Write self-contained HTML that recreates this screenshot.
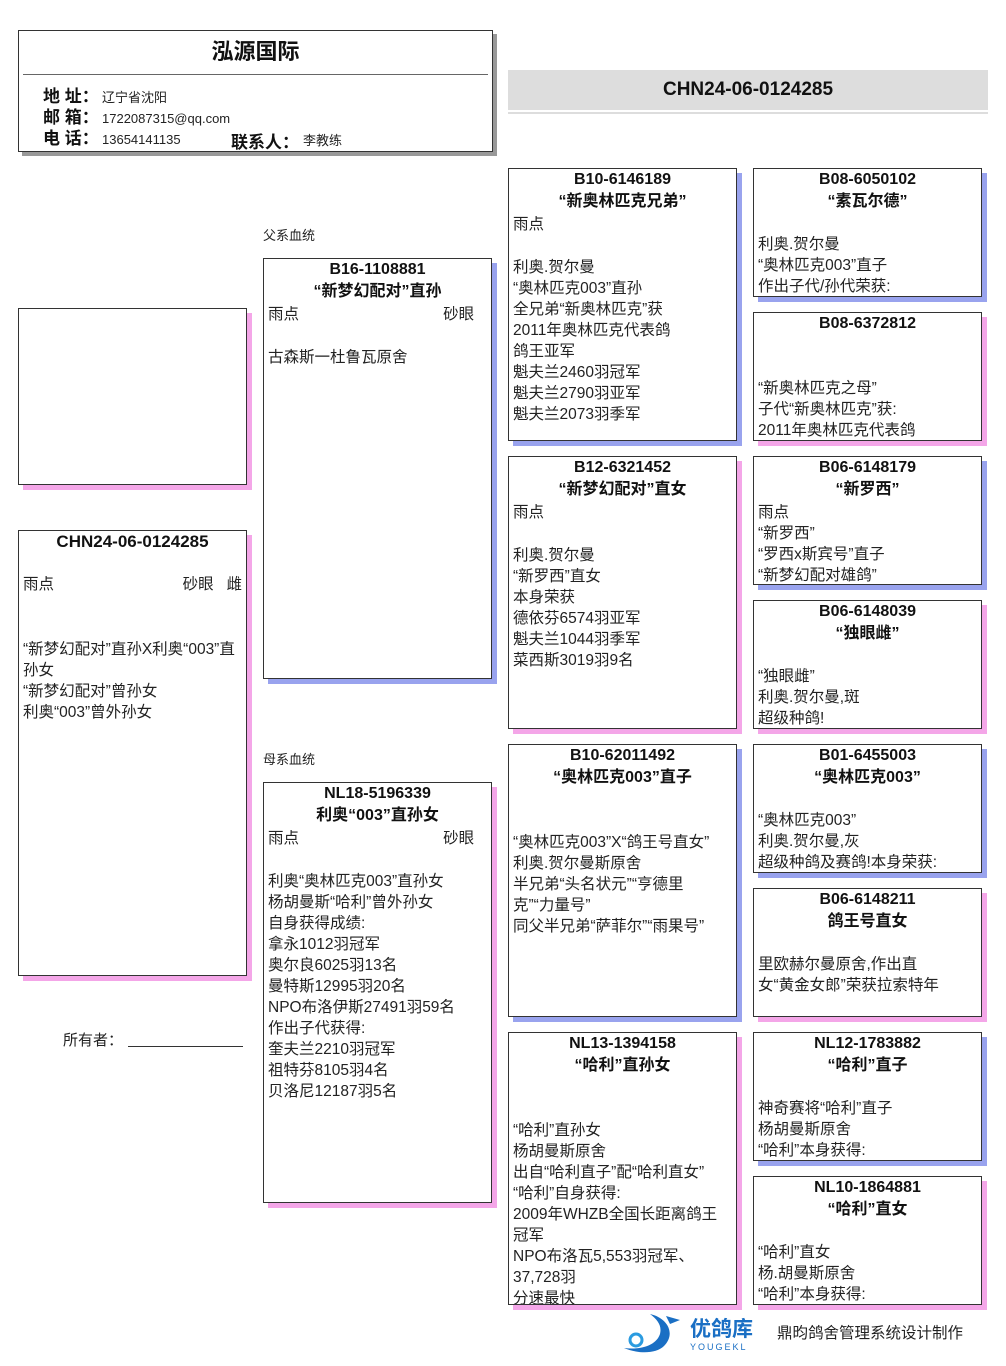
<!DOCTYPE html>
<html><head><meta charset="utf-8"><style>
*{margin:0;padding:0;box-sizing:border-box}
body{width:1006px;height:1366px;background:#fff;position:relative;font-family:"Liberation Sans","Noto Sans CJK SC",sans-serif;color:#222;overflow:hidden}
.a{position:absolute}
.b{position:absolute;border:1px solid #333;background:#fff;font-size:15.5px;line-height:21px;padding:0 4px;overflow:hidden;white-space:nowrap}
.m{box-shadow:5px 5px 0 #99a3ee}
.f{box-shadow:5px 5px 0 #f4a6e8}
.b .t{text-align:center;font-weight:bold;font-size:16px;color:#111}
.b .t+.t{margin-top:1px}
.b .r{display:flex;justify-content:space-between}
.e{height:22px}
.s{margin-top:2px}
</style></head><body>
<div class="a" style="left:18px;top:30px;width:475px;height:122px;border:1px solid #333;box-shadow:4px 4px 0 #999;background:#fff">
 <div class="a" style="left:0;width:100%;top:3px;text-align:center;font-size:22px;font-weight:bold;color:#111">泓源国际</div>
 <div class="a" style="left:4px;right:4px;top:43px;border-top:1px solid #666"></div>
 <div class="a" style="left:24px;top:55px;font-size:17px;line-height:21px;font-weight:bold;color:#111">地 址：<br>邮 箱：<br>电 话：</div>
 <div class="a" style="left:83px;top:56px;font-size:13px;line-height:21px">辽宁省沈阳<br>1722087315@qq.com<br>13654141135</div>
 <div class="a" style="left:212px;top:97px;font-size:17px;font-weight:bold;color:#111">联系人：</div>
 <div class="a" style="left:284px;top:99px;font-size:13px">李教练</div>
</div>
<div class="a" style="left:508px;top:70px;width:480px;height:40px;background:#ddd;text-align:center;font-size:19px;font-weight:bold;line-height:40px;color:#111">CHN24-06-0124285</div>
<div class="a" style="left:508px;top:112px;width:480px;height:2px;background:#ddd"></div>

<div class="b f" style="left:18px;top:308px;width:229px;height:177px"></div>
<div class="b f" style="left:18px;top:530px;width:229px;height:446px;white-space:normal">
<div class="t" style="font-size:17px">CHN24-06-0124285</div><div class="e"></div>
<div class="r"><span>雨点</span><span>砂眼&nbsp;&nbsp;&nbsp;雌</span></div><div class="e"></div><div class="e"></div>
“新梦幻配对”直孙X利奥“003”直孙女<br>“新梦幻配对”曾孙女<br>利奥“003”曾外孙女</div>

<div class="a" style="left:263px;top:225px;font-size:13px">父系血统</div>
<div class="a" style="left:263px;top:749px;font-size:13px">母系血统</div>
<div class="a" style="left:63px;top:1029px;font-size:15px">所有者：</div>
<div class="a" style="left:128px;top:1046px;width:115px;border-top:1px solid #333"></div>

<div class="b m" style="left:263px;top:258px;width:229px;height:421px">
<div class="t">B16-1108881</div><div class="t">“新梦幻配对”直孙</div>
<div class="r s"><span>雨点</span><span>砂眼&nbsp;&nbsp;&nbsp;</span></div><div class="e"></div>古森斯一杜鲁瓦原舍</div>
<div class="b f" style="left:263px;top:782px;width:229px;height:421px">
<div class="t">NL18-5196339</div><div class="t">利奥“003”直孙女</div>
<div class="r s"><span>雨点</span><span>砂眼&nbsp;&nbsp;&nbsp;</span></div><div class="e"></div>
利奥“奥林匹克003”直孙女<br>杨胡曼斯“哈利”曾外孙女<br>自身获得成绩:<br>拿永1012羽冠军<br>奥尔良6025羽13名<br>曼特斯12995羽20名<br>NPO布洛伊斯27491羽59名<br>作出子代获得:<br>奎夫兰2210羽冠军<br>祖特芬8105羽4名<br>贝洛尼12187羽5名</div>

<div class="b m" style="left:508px;top:168px;width:229px;height:273px">
<div class="t">B10-6146189</div><div class="t">“新奥林匹克兄弟”</div><div class="s">雨点</div><div class="e"></div>
利奥.贺尔曼<br>“奥林匹克003”直孙<br>全兄弟“新奥林匹克”获<br>2011年奥林匹克代表鸽<br>鸽王亚军<br>魁夫兰2460羽冠军<br>魁夫兰2790羽亚军<br>魁夫兰2073羽季军</div>
<div class="b f" style="left:508px;top:456px;width:229px;height:273px">
<div class="t">B12-6321452</div><div class="t">“新梦幻配对”直女</div><div class="s">雨点</div><div class="e"></div>
利奥.贺尔曼<br>“新罗西”直女<br>本身荣获<br>德依芬6574羽亚军<br>魁夫兰1044羽季军<br>菜西斯3019羽9名</div>
<div class="b m" style="left:508px;top:744px;width:229px;height:273px">
<div class="t">B10-62011492</div><div class="t">“奥林匹克003”直子</div><div class="e"></div><div class="e"></div>
“奥林匹克003”X“鸽王号直女”<br>利奥.贺尔曼斯原舍<br>半兄弟“头名状元”“亨德里<br>克”“力量号”<br>同父半兄弟“萨菲尔”“雨果号”</div>
<div class="b f" style="left:508px;top:1032px;width:229px;height:273px">
<div class="t">NL13-1394158</div><div class="t">“哈利”直孙女</div><div class="e"></div><div class="e"></div>
“哈利”直孙女<br>杨胡曼斯原舍<br>出自“哈利直子”配“哈利直女”<br>“哈利”自身获得:<br>2009年WHZB全国长距离鸽王<br>冠军<br>NPO布洛瓦5,553羽冠军、<br>37,728羽<br>分速最快</div>

<div class="b m" style="left:753px;top:168px;width:229px;height:129px">
<div class="t">B08-6050102</div><div class="t">“素瓦尔德”</div><div class="e"></div>利奥.贺尔曼<br>“奥林匹克003”直子<br>作出子代/孙代荣获:</div>
<div class="b f" style="left:753px;top:312px;width:229px;height:129px">
<div class="t">B08-6372812</div><div class="e"></div><div class="e"></div>“新奥林匹克之母”<br>子代“新奥林匹克”获:<br>2011年奥林匹克代表鸽</div>
<div class="b m" style="left:753px;top:456px;width:229px;height:129px">
<div class="t">B06-6148179</div><div class="t">“新罗西”</div><div class="s">雨点</div>“新罗西”<br>“罗西x斯宾号”直子<br>“新梦幻配对雄鸽”</div>
<div class="b f" style="left:753px;top:600px;width:229px;height:129px">
<div class="t">B06-6148039</div><div class="t">“独眼雌”</div><div class="e"></div>“独眼雌”<br>利奥.贺尔曼,斑<br>超级种鸽!</div>
<div class="b m" style="left:753px;top:744px;width:229px;height:129px">
<div class="t">B01-6455003</div><div class="t">“奥林匹克003”</div><div class="e"></div>“奥林匹克003”<br>利奥.贺尔曼,灰<br>超级种鸽及赛鸽!本身荣获:</div>
<div class="b f" style="left:753px;top:888px;width:229px;height:129px">
<div class="t">B06-6148211</div><div class="t">鸽王号直女</div><div class="e"></div>里欧赫尔曼原舍,作出直<br>女“黄金女郎”荣获拉索特年</div>
<div class="b m" style="left:753px;top:1032px;width:229px;height:129px">
<div class="t">NL12-1783882</div><div class="t">“哈利”直子</div><div class="e"></div>神奇赛将“哈利”直子<br>杨胡曼斯原舍<br>“哈利”本身获得:</div>
<div class="b f" style="left:753px;top:1176px;width:229px;height:129px">
<div class="t">NL10-1864881</div><div class="t">“哈利”直女</div><div class="e"></div>“哈利”直女<br>杨.胡曼斯原舍<br>“哈利”本身获得:</div>

<svg class="a" style="left:620px;top:1312px" width="70" height="42" viewBox="0 0 70 42">
<path d="M30 2 C48 6 56 22 44 34 C36 42 18 42 4 36 C20 38 36 34 40 22 C42 14 38 8 30 2Z" fill="#1a6fc4"/>
<path d="M46 4 L60 8 L50 12Z" fill="#1a6fc4"/>
<circle cx="16" cy="28" r="6" fill="none" stroke="#2a9be0" stroke-width="3"/>
</svg>
<div class="a" style="left:690px;top:1318px;font-size:21px;font-weight:bold;color:#1a6fc4;line-height:24px">优鸽库</div>
<div class="a" style="left:690px;top:1342px;font-size:9px;color:#1a6fc4;letter-spacing:2px">YOUGEKL</div>
<div class="a" style="left:777px;top:1321px;font-size:15.5px">鼎昀鸽舍管理系统设计制作</div>
</body></html>
